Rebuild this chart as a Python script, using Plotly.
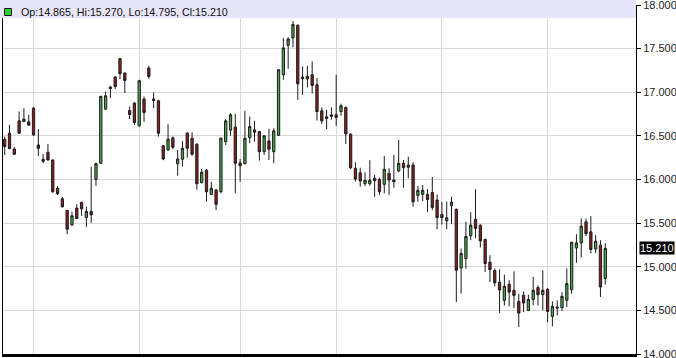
import plotly.graph_objects as go

# Daily OHLC values (oldest -> newest)
opens = [16.462, 16.531, 16.350, 16.672, 16.664, 16.661, 16.818, 16.396, 16.232, 16.312,
         16.224, 15.899, 15.779, 15.646, 15.480, 15.672, 15.738, 15.565, 15.634, 16.002,
         16.186, 16.807, 17.060, 17.175, 17.385, 17.220, 16.791, 16.876, 16.615, 16.922,
         17.278, 16.922, 16.902, 16.388, 16.339, 16.477, 16.181, 16.232, 16.531, 16.473,
         16.404, 15.963, 16.106, 15.830, 15.879, 15.860, 16.434, 16.565, 16.600, 16.190,
         16.181, 16.480, 16.569, 16.549, 16.319, 16.442, 16.319, 16.506, 17.201, 17.538,
         17.623, 17.768, 17.175, 17.152, 17.201, 17.086, 16.787, 16.718, 16.741, 16.741,
         16.779, 16.825, 16.519, 16.129, 16.078, 15.952, 15.952, 16.014, 16.002, 15.945,
         16.071, 15.994, 16.098, 16.186, 16.140, 16.166, 15.818, 15.830, 15.830, 15.850,
         15.764, 15.600, 15.526, 15.699, 15.658, 14.988, 15.094, 15.356, 15.544, 15.477,
         15.312, 15.052, 14.956, 14.822, 14.615, 14.799, 14.730, 14.603, 14.672, 14.500,
         14.626, 14.761, 14.680, 14.741, 14.431, 14.538, 14.531, 14.615, 14.738, 15.216,
         15.273, 15.515, 15.400, 15.204, 15.247, 14.865]
highs = [16.492, 16.626, 16.370, 16.779, 16.818, 16.741, 16.830, 16.577, 16.293, 16.408,
         16.230, 15.925, 15.802, 15.650, 15.630, 15.718, 15.745, 15.687, 16.147, 16.193,
         16.960, 17.009, 17.075, 17.182, 17.393, 17.227, 16.837, 16.887, 17.143, 16.952,
         17.304, 16.997, 16.914, 16.396, 16.634, 16.492, 16.339, 16.442, 16.542, 16.542,
         16.416, 16.121, 16.121, 15.975, 15.891, 16.480, 16.695, 16.761, 16.753, 16.235,
         16.787, 16.722, 16.672, 16.557, 16.511, 16.580, 16.588, 17.266, 17.623, 17.630,
         17.814, 17.776, 17.296, 17.304, 17.354, 17.163, 16.827, 16.799, 16.827, 17.201,
         16.868, 16.837, 16.531, 16.198, 16.135, 16.083, 16.221, 16.052, 16.021, 16.270,
         16.129, 16.281, 16.454, 16.224, 16.262, 16.198, 15.925, 15.937, 15.891, 16.029,
         15.830, 15.745, 15.747, 15.802, 15.666, 15.209, 15.515, 15.626, 15.888, 15.485,
         15.324, 15.132, 14.979, 14.969, 14.910, 14.845, 14.948, 14.692, 14.718, 14.680,
         14.883, 14.787, 14.960, 14.756, 14.603, 14.615, 14.710, 14.979, 15.285, 15.373,
         15.554, 15.554, 15.580, 15.362, 15.304, 15.270]
lows = [16.281, 16.347, 16.281, 16.523, 16.661, 16.620, 16.500, 16.270, 16.186, 16.216,
        15.848, 15.822, 15.680, 15.373, 15.465, 15.546, 15.584, 15.457, 15.503, 15.929,
        16.180, 16.799, 16.933, 17.037, 17.152, 16.991, 16.692, 16.626, 16.607, 16.661,
        17.152, 16.818, 16.492, 16.221, 16.327, 16.347, 16.043, 16.147, 16.250, 16.273,
        15.883, 15.956, 15.745, 15.822, 15.649, 15.841, 16.396, 16.503, 15.841, 15.975,
        16.175, 16.416, 16.434, 16.216, 16.281, 16.224, 16.186, 16.500, 17.143, 17.270,
        17.515, 16.914, 16.971, 17.055, 16.986, 16.676, 16.638, 16.577, 16.684, 16.615,
        16.730, 16.408, 16.121, 15.975, 15.917, 15.925, 15.929, 15.802, 15.822, 15.841,
        15.822, 15.906, 16.083, 15.906, 16.014, 15.687, 15.745, 15.753, 15.626, 15.649,
        15.431, 15.483, 15.431, 15.488, 14.595, 14.692, 14.977, 15.304, 15.327, 15.221,
        14.940, 14.825, 14.776, 14.469, 14.557, 14.546, 14.526, 14.308, 14.480, 14.492,
        14.557, 14.557, 14.500, 14.365, 14.316, 14.442, 14.492, 14.538, 14.692, 15.044,
        15.106, 15.350, 15.152, 15.158, 14.653, 14.795]
closes = [16.377, 16.354, 16.289, 16.531, 16.692, 16.623, 16.511, 16.358, 16.209, 16.224,
          15.860, 15.837, 15.687, 15.431, 15.584, 15.554, 15.664, 15.634, 15.595, 16.181,
          16.952, 16.960, 17.043, 17.066, 17.212, 17.135, 16.745, 16.653, 17.132, 16.768,
          17.181, 16.906, 16.531, 16.235, 16.462, 16.370, 16.235, 16.358, 16.358, 16.289,
          15.952, 16.083, 15.860, 15.899, 15.715, 16.473, 16.672, 16.741, 16.186, 16.158,
          16.473, 16.607, 16.542, 16.319, 16.500, 16.347, 16.557, 17.258, 17.508, 17.611,
          17.776, 17.098, 17.155, 17.182, 17.078, 16.779, 16.672, 16.701, 16.724, 16.712,
          16.845, 16.523, 16.135, 16.006, 15.983, 15.991, 15.991, 15.986, 15.860, 16.117,
          15.994, 15.975, 16.186, 16.135, 16.166, 15.745, 15.876, 15.876, 15.772, 15.680,
          15.563, 15.563, 15.561, 15.741, 14.960, 15.152, 15.347, 15.477, 15.439, 15.296,
          15.037, 14.968, 14.816, 14.733, 14.776, 14.710, 14.672, 14.469, 14.584, 14.626,
          14.730, 14.680, 14.730, 14.488, 14.546, 14.527, 14.661, 14.807, 15.281, 15.273,
          15.465, 15.381, 15.198, 15.293, 14.768, 15.210]

# Index of the first trading day of each month (vertical grid lines)
month_start_idx = [6, 28, 49, 69, 91, 113]

y_ticks = [14.0, 14.5, 15.0, 15.5, 16.0, 16.5, 17.0, 17.5, 18.0]

idx = list(range(len(opens)))
last_o, last_h, last_l, last_c = opens[-1], highs[-1], lows[-1], closes[-1]

fig = go.Figure()
fig.add_trace(go.Candlestick(
    x=idx, open=opens, high=highs, low=lows, close=closes,
    increasing=dict(line=dict(color="#1c1c1c", width=1), fillcolor="#4aa84a"),
    decreasing=dict(line=dict(color="#1c1c1c", width=1), fillcolor="#8b1e1e"),
    whiskerwidth=0, hoverinfo="skip", showlegend=False,
))

FONT = "Liberation Sans, Arial, sans-serif"

fig.update_layout(
    width=676, height=358,
    margin=dict(l=3, r=40, t=5, b=4, autoexpand=False),
    paper_bgcolor="white", plot_bgcolor="white",
    showlegend=False,
    boxgap=0.32,
    font=dict(family=FONT, size=11, color="#222222"),
    xaxis=dict(
        range=[-0.354, 131.4], automargin=False,
        tickvals=month_start_idx, showticklabels=False, ticks="",
        showgrid=True, gridcolor="#d8d8d8", gridwidth=1,
        showline=True, linecolor="black", linewidth=3,
        zeroline=False, rangeslider=dict(visible=False), fixedrange=True,
    ),
    yaxis=dict(
        range=[14.0, 18.0], side="right", automargin=False,
        tickvals=y_ticks, tickformat=".3f",
        ticks="outside", ticklen=4, tickcolor="black",
        ticklabeloverflow="allow",
        showline=True, linecolor="black", linewidth=1, mirror=True,
        showgrid=True, gridcolor="#d8d8d8", gridwidth=1,
        zeroline=False, tickfont=dict(family=FONT, size=11, color="#222222"),
        fixedrange=True,
    ),
    shapes=[
        # header band
        dict(type="rect", xref="paper", yref="paper",
             xsizemode="pixel", ysizemode="pixel", xanchor=0, yanchor=1,
             x0=-3, x1=633, y0=6, y1=-13,
             fillcolor="#e6e6f8", line=dict(width=0), layer="above"),
        # green marker square
        dict(type="rect", xref="paper", yref="paper",
             xsizemode="pixel", ysizemode="pixel", xanchor=0, yanchor=1,
             x0=1.5, x1=8.5, y0=-3.5, y1=-10.5,
             fillcolor="#2ecc2e", line=dict(width=1, color="#1a1a1a"), layer="above"),
    ],
    annotations=[
        dict(xref="paper", yref="paper", x=0, y=1, xanchor="left", yanchor="middle",
             xshift=16, yshift=-7, showarrow=False,
             text=f"Op:{last_o:.3f}, Hi:{last_h:.3f}, Lo:{last_l:.3f}, Cl:{last_c:.3f}",
             font=dict(family=FONT, size=10.7, color="#111111")),
        dict(xref="paper", yref="y", x=1, y=last_c, xanchor="left", yanchor="middle",
             xshift=3, showarrow=False, text=f"{last_c:.3f}",
             bgcolor="black", borderpad=0,
             font=dict(family=FONT, size=11, color="white")),
    ],
)

fig.write_html("out.html", config=dict(displayModeBar=False, staticPlot=True))
